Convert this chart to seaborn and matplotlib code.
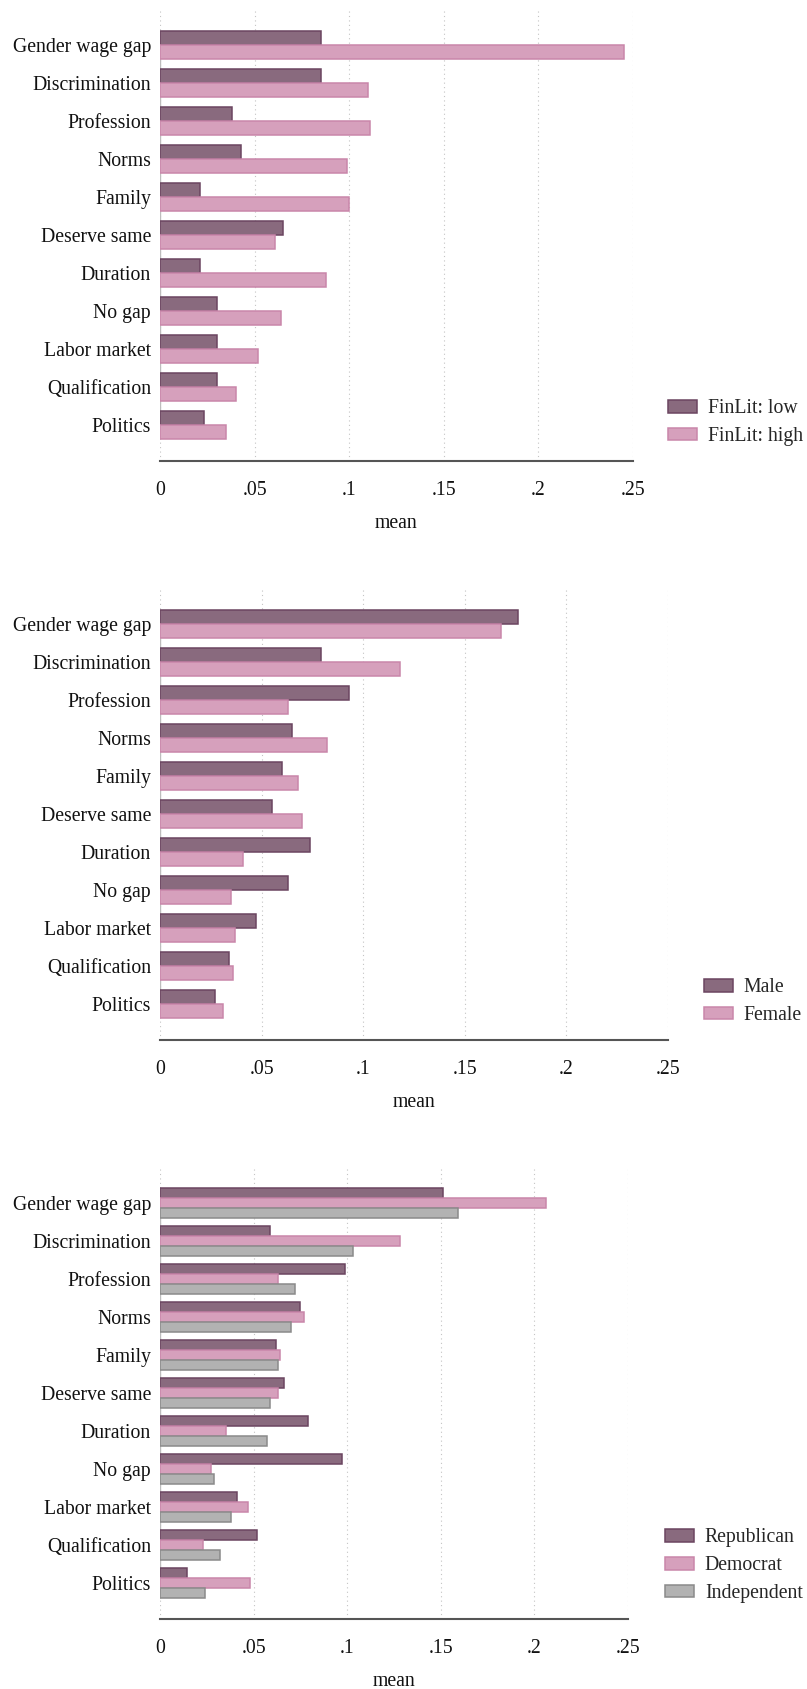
import matplotlib
matplotlib.use("Agg")
import matplotlib.pyplot as plt
from matplotlib.patches import Patch
import pandas as pd
import seaborn as sns

# Reasons people cite for the gender wage gap (share answering, by group)
categories = ["Gender wage gap", "Discrimination", "Profession", "Norms", "Family",
              "Deserve same", "Duration", "No gap", "Labor market", "Qualification",
              "Politics"]

finlit_low = [0.085, 0.085, 0.038, 0.043, 0.021, 0.065, 0.021, 0.030, 0.030, 0.030, 0.023]
finlit_high = [0.245, 0.110, 0.111, 0.099, 0.100, 0.061, 0.088, 0.064, 0.052, 0.040, 0.035]

male = [0.176, 0.079, 0.093, 0.065, 0.060, 0.055, 0.074, 0.063, 0.047, 0.034, 0.027]
female = [0.168, 0.118, 0.063, 0.082, 0.068, 0.070, 0.041, 0.035, 0.037, 0.036, 0.031]

republican = [0.151, 0.059, 0.099, 0.075, 0.062, 0.066, 0.079, 0.097, 0.041, 0.052, 0.0145]
democrat = [0.206, 0.128, 0.063, 0.077, 0.064, 0.063, 0.035, 0.027, 0.047, 0.023, 0.048]
independent = [0.159, 0.103, 0.072, 0.070, 0.063, 0.059, 0.057, 0.029, 0.038, 0.032, 0.024]

xticks = [0, 0.05, 0.10, 0.15, 0.20, 0.25]
xtick_labels = ["0", ".05", ".1", ".15", ".2", ".25"]

DARK, DARK_EDGE = "#896a7e", "#6b4560"
PINK, PINK_EDGE = "#d6a0bc", "#c986aa"
GREY, GREY_EDGE = "#b2b2b2", "#8a8a8a"

sns.set_style("white")
plt.rcParams["font.family"] = ["Liberation Serif", "DejaVu Serif"]

W, H = 807, 1689
fig = plt.figure(figsize=(W / 100, H / 100), dpi=100)
FS = 14.2


def long_frame(series):
    parts = []
    for name, vals in series.items():
        parts.append(pd.DataFrame({"category": categories, "group": name, "mean": vals}))
    return pd.concat(parts, ignore_index=True)


def panel(box, series, fills, edges, width, legend_xy):
    left, right, top, bottom = box
    ax = fig.add_axes([left / W, 1 - bottom / H, (right - left) / W, (bottom - top) / H])
    names = list(series.keys())
    df = long_frame(series)
    sns.barplot(data=df, x="mean", y="category", hue="group", order=categories,
                hue_order=names, palette=fills, orient="h", width=width,
                errorbar=None, saturation=1, linewidth=1.1, legend=False, ax=ax)
    for cont, ec in zip(ax.containers, edges):
        for bar in cont:
            bar.set_edgecolor(ec)
            bar.set_zorder(3)

    n = len(categories)
    ax.set_xlim(0, 0.25)
    ax.set_ylim(n - 1 + 0.95, -0.95)
    ax.set_xticks(xticks)
    ax.set_xticklabels(xtick_labels)
    ax.xaxis.grid(True, linestyle=(0, (1, 3)), color="#c4c4c4", linewidth=0.8)
    ax.yaxis.grid(False)
    ax.set_axisbelow(True)
    ax.vlines(0, -width / 2, n - 1 + width / 2, colors="#bdbdbd", linewidth=1.0, zorder=2)

    for side in ("top", "right", "left"):
        ax.spines[side].set_visible(False)
    ax.spines["bottom"].set_color("#555555")
    ax.spines["bottom"].set_linewidth(1.5)

    ax.tick_params(axis="x", length=11.5, width=1.1, color="#a0a0a0", labelsize=FS,
                   pad=3, direction="out", labelcolor="#111111")
    ax.tick_params(axis="y", length=0, labelsize=FS, pad=6.5, labelcolor="#111111")
    ax.set_ylabel("")
    ax.set_xlabel("mean", fontsize=FS, labelpad=10, color="#111111")

    handles = [Patch(facecolor=f, edgecolor=e, linewidth=1.1, label=nm)
               for nm, f, e in zip(names, fills, edges)]
    lx, ly = legend_xy
    ax.legend(handles=handles, loc="lower left", bbox_to_anchor=(lx / W, 1 - ly / H),
              bbox_transform=fig.transFigure, frameon=False, fontsize=FS,
              handlelength=1.47, handleheight=0.61, handletextpad=0.55,
              labelspacing=0.45, borderpad=0, borderaxespad=0)
    return ax


panel((160, 633, 9, 461),
      {"FinLit: low": finlit_low, "FinLit: high": finlit_high},
      [DARK, PINK], [DARK_EDGE, PINK_EDGE], 0.74, (668, 446))

panel((160, 668, 588, 1040),
      {"Male": male, "Female": female},
      [DARK, PINK], [DARK_EDGE, PINK_EDGE], 0.74, (704, 1025))

panel((160, 628, 1167, 1619),
      {"Republican": republican, "Democrat": democrat, "Independent": independent},
      [DARK, PINK, GREY], [DARK_EDGE, PINK_EDGE, GREY_EDGE], 0.79, (665, 1603))

fig.savefig("out.png", dpi=100)
